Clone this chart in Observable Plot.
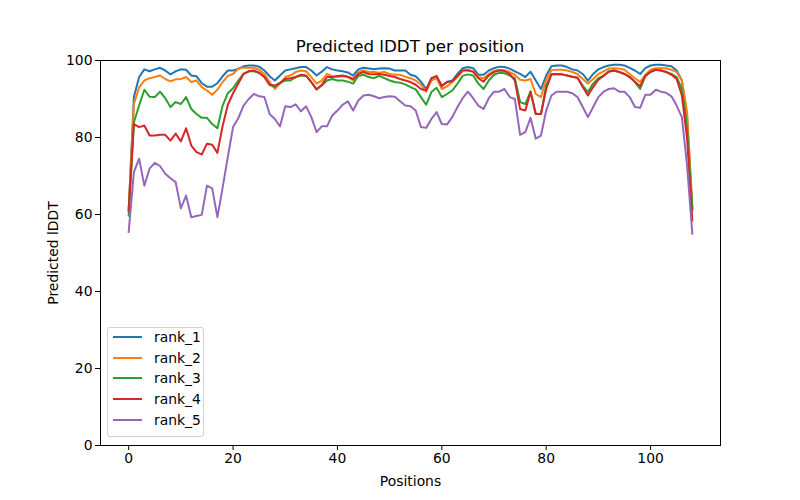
<!DOCTYPE html>
<html>
<head>
<meta charset="utf-8">
<script src="https://cdn.jsdelivr.net/npm/d3@7"></script>
<script src="https://cdn.jsdelivr.net/npm/@observablehq/plot@0.6"></script>
<style>
  html, body { margin: 0; padding: 0; background: #fff; }
  #wrap { position: relative; width: 800px; height: 500px; font-family: "DejaVu Sans", sans-serif; }
  #title { height: 50px; box-sizing: border-box; padding-top: 36px; padding-left: 20px; text-align: center;
           font-size: 16.7px; line-height: 20px; color: #000; white-space: nowrap; }
  #legend { position: absolute; left: 107px; top: 327px; width: 97px; height: 110px; box-sizing: border-box;
            border: 1px solid #d0d0d0; border-radius: 3px; background: rgba(255,255,255,0.8); }
  .row { position: absolute; left: 0; height: 20px; width: 100%; }
  .sw { position: absolute; left: 5px; top: 9px; width: 29px; height: 2px; }
  .lb { position: absolute; left: 46px; top: 0; font-size: 13.9px; line-height: 20px; color: #000; }
  svg { display: block; }
</style>
</head>
<body>
<div id="wrap">
  <div id="title">Predicted lDDT per position</div>
  <div id="chart"></div>
  <div id="legend"></div>
</div>
<script>
const positions = d3.range(0, 109);
const seriesNames = ["rank_1", "rank_2", "rank_3", "rank_4", "rank_5"];
const seriesColors = ["#1f77b4", "#ff7f0e", "#2ca02c", "#d62728", "#9467bd"];
const xTicks = [0, 20, 40, 60, 80, 100];
const yTicks = [0, 20, 40, 60, 80, 100];

const rank_1 = [61,90.5,95.7,97.7,97.2,97.7,98.1,97.4,96.4,97.2,97.7,97.6,96.1,95.9,94.1,93.2,93.2,94.1,95.9,97.4,
  97.4,97.8,98.5,98.7,98.7,98.4,97.4,95.9,94.8,96.1,97.4,97.7,98,98.3,98.3,97.4,96.1,97.1,98.3,97.7,
  97.4,97.2,96.9,96.1,97.7,98.1,97.9,97.7,97.9,98,97.9,97.4,97.4,97.4,96.3,95.9,94.5,92.6,95.2,95.7,
  93.5,94.4,94.8,96.5,98,98.3,98,96.3,96.3,97.4,98,98.4,98.3,97.9,97.2,96.5,95.7,97.1,94.8,92.6,
  96.1,98.5,98.7,98.7,98.3,97.7,97.4,96.5,94.8,96.5,97.7,98.3,98.7,98.9,98.9,98.7,98.1,97.4,96.5,98,
  98.7,98.9,98.9,98.7,98.5,97.4,94.8,85.3,61];
const rank_2 = [61.5,88.7,93,94.8,95.4,95.7,96.1,95.2,94.6,95.1,95.2,95.7,94.4,94.8,93.1,92.2,91.1,92.4,94.4,96,
  96.5,97.9,98.1,98.1,98.1,97.6,96.5,94.4,92.6,94,95.7,96.1,97,97.4,97.2,95.7,94,94.8,96.5,95.9,
  95.7,95.9,95.7,94.8,97,97.4,97,97,96.8,97,96.5,96.3,96.3,95.8,95.4,94.8,93.7,91.9,94.8,95.4,
  92.6,93.3,94.4,95.7,97.4,97.6,97.1,95.7,95.4,96.5,97.3,97.6,97.5,97,96.3,95,94.8,95.2,91.3,90.5,
  95,97.5,97.6,97.6,97.4,97,96.5,95.2,94,95.2,96.5,97.2,97.9,98,97.9,97.6,96.5,95.4,94.4,96.3,
  97.6,98,98,98,97.6,97,94.8,86.6,62];
const rank_3 = [59.7,84,88.3,92.4,90.6,90.5,91.9,90.2,87.9,89.2,88.7,90.5,87.4,86.1,85.1,85.1,83.5,82.4,88.3,91.5,
  92.8,94.8,96.5,97.2,97.2,96.8,95.7,93.7,93.1,94.2,94.8,94.8,95.7,96.1,96,94.4,92.5,93.5,94.8,95.2,
  94.8,94.8,94.5,94,96,96.3,95.7,95.4,96,95.4,94.8,94.4,94.2,93.8,93.1,92.5,90.5,88.5,91.8,92.9,
  90.5,91.3,92.2,94,96,96.4,96.1,94,92.6,94.8,96.3,96.8,96.7,96.1,95.4,89.2,88.7,92,86.1,86.1,
  93.5,96.4,96.5,96.4,96.1,95.8,95.5,93.5,91.8,94,95.4,96.1,97.2,97.4,97,96.5,95.7,94.4,92.6,96,
  97.1,97.6,97.4,97,96.5,95.7,92.6,82.3,61.5];
const rank_4 = [61,83.5,82.7,83.1,80.5,80.5,80.7,80.7,79.2,81,79,82.4,77.9,76.2,75.6,78.4,78.1,76,83,88.5,
  91.5,94,96.5,97.2,97.4,96.8,95.7,93.7,93.5,94.2,95.2,95.4,95.7,96.3,96.1,94.4,92.5,93.7,95.7,95.7,
  96,96.1,95.8,95.2,96.5,97,96.5,96.4,96.5,96.3,96,95.7,95.2,94.8,94.4,93.7,92.6,92.2,95.4,96,
  93.3,94.5,94.5,96.1,97.4,97.4,97.1,95.4,94.5,96.1,97,97.4,97.3,96.5,94.8,87.4,87,91.8,86.1,86.1,
  92.6,96.4,96.5,96.4,96.1,95.8,95.5,93.1,90.9,93.1,95,96,97.1,97.4,97,96.5,95.7,94.5,93.3,96,
  97,97.6,97.4,97,96.3,95.2,90.9,79.7,58.4];
const rank_5 = [55.5,71,74.5,67.5,71.9,73.4,72.6,70.6,69.4,68.4,61.6,64.9,59.3,59.6,59.9,67.5,66.8,59.3,67,75,
  82.7,85,88.3,90,91.3,90.7,90.5,86.1,84.8,82.9,88.1,87.9,88.6,86.8,88.1,85.3,81.4,82.9,82.9,85.7,
  87,88.5,89.4,87,89.6,90.9,91.1,90.7,90.2,90.5,90.7,90.6,89.4,88.3,88.1,87,82.7,82.5,84.8,86.6,
  83.5,83.4,85.3,87.9,90.2,91.9,90.2,88.3,87.4,90.2,91.9,91.9,92.6,90.5,90,80.7,81.4,85.1,79.7,80.5,
  87,90.9,91.9,91.9,91.9,91.5,90.5,87.9,85.3,87.9,90.5,91.9,92.6,92.8,91.9,91.9,90.5,87.9,87.7,91.1,
  91.1,92.4,91.9,91.6,90.7,88.3,85.3,72.7,55];

const seriesValues = [rank_1, rank_2, rank_3, rank_4, rank_5];
const data = seriesNames.flatMap((name, k) =>
  seriesValues[k].map((v, i) => ({pos: positions[i], lddt: v, rank: name})));

const chart = Plot.plot({
  width: 800,
  height: 450,
  marginTop: 10,
  marginLeft: 100,
  marginRight: 80,
  marginBottom: 55,
  style: {fontFamily: "DejaVu Sans, sans-serif", fontSize: "13.9px", color: "#000", background: "#fff"},
  x: {domain: [-5.4, 113.4]},
  y: {domain: [0, 100]},
  color: {domain: seriesNames, range: seriesColors},
  marks: [
    Plot.line(data, {x: "pos", y: "lddt", stroke: "rank", z: "rank", strokeWidth: 2, strokeLinejoin: "round", strokeLinecap: "square"}),
    Plot.frame({stroke: "#000", strokeWidth: 1}),
    Plot.axisX({ticks: xTicks, tickSize: 5, tickPadding: 3, label: "Positions", labelAnchor: "center", labelArrow: "none", labelOffset: 40, stroke: "#000", strokeOpacity: 1}),
    Plot.axisY({ticks: yTicks, tickSize: 5, tickPadding: 3, label: "Predicted lDDT", labelAnchor: "center", labelArrow: "none", labelOffset: 52, stroke: "#000", strokeOpacity: 1})
  ]
});
document.getElementById("chart").appendChild(chart);

const legend = document.getElementById("legend");
seriesNames.forEach((name, k) => {
  const row = document.createElement("div");
  row.className = "row";
  row.style.top = (k * 20.7 - 1) + "px";
  const sw = document.createElement("div");
  sw.className = "sw";
  sw.style.background = seriesColors[k];
  const lb = document.createElement("div");
  lb.className = "lb";
  lb.textContent = name;
  row.appendChild(sw);
  row.appendChild(lb);
  legend.appendChild(row);
});
</script>
</body>
</html>
